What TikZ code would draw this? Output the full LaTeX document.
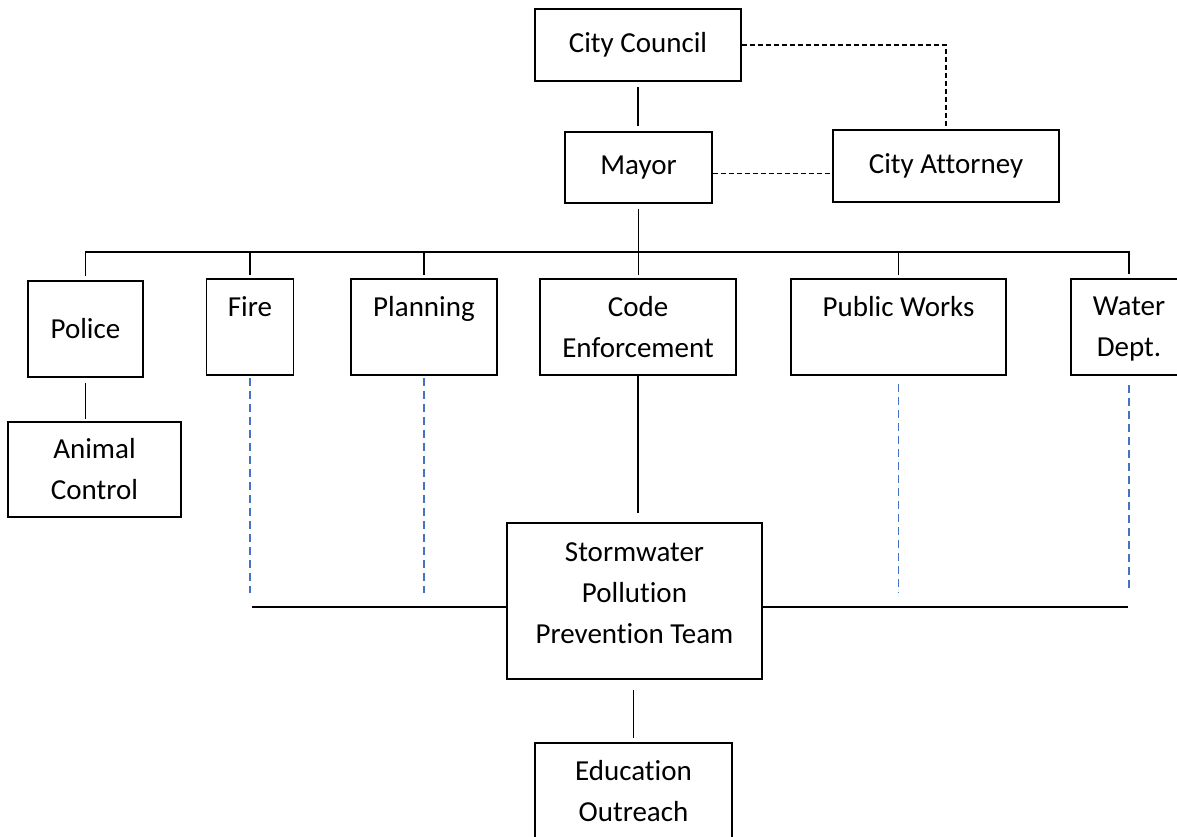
\documentclass[tikz,border=0pt]{standalone}
\usepackage{fontspec}
\setmainfont{Carlito}[Ligatures=NoCommon]
\usepackage{xcolor}
\definecolor{wordblue}{RGB}{68,114,196}

\begin{document}
\begin{tikzpicture}[x=1pt,y=-1pt,
        box/.style={draw,line width=1.8pt,align=center,inner sep=0pt,font=\fontsize{29}{41}\selectfont},
        link/.style={line width=1.7pt},
        aside/.style={line width=1.7pt,dash pattern=on 5pt off 3pt},
        tie/.style={wordblue,line width=1.6pt,dash pattern=on 8pt off 5pt}]
        \useasboundingbox (0,0) rectangle (1177,836);
        \node[box,minimum width=206pt,minimum height=72pt] (council) at (638,45) {City Council};
        \node[box,minimum width=147pt,minimum height=71pt] (mayor) at (638.5,167.5) {Mayor};
        \node[box,minimum width=226pt,minimum height=72pt] (attorney) at (946,166) {City Attorney};
        \node[box,minimum width=115pt,minimum height=96pt] (police) at (85.5,329) {Police};
        \node[box,minimum width=173pt,minimum height=95pt] (animal) at (94.5,469.5) {Animal\\Control};
        \node[box,minimum width=87pt,minimum height=96pt] (fire) at (250,327) {Fire\\~};
        \node[box,minimum width=146pt,minimum height=96pt] (planning) at (424,327) {Planning\\~};
        \node[box,minimum width=196pt,minimum height=96pt] (code) at (638,327) {Code\\Enforcement};
        \node[box,minimum width=215pt,minimum height=96pt] (works) at (898.5,327) {Public Works\\~};
        \node[box,minimum width=116pt,minimum height=96pt] (water) at (1129,327) {Water\\\raisebox{0pt}[\height][0pt]{Dept.}};
        \node[box,minimum width=255pt,minimum height=156pt] (team) at (634.5,601) {Stormwater\\Pollution\\Prevention Team\\[-26pt]~};
        \node[box,minimum width=197pt,minimum height=96pt] (outreach) at (633.5,791) {Education\\Outreach};

        \coordinate (bus) at (638,252);
        \coordinate (teamL) at (252,607);
        \coordinate (teamR) at (1128,607);

        \draw[link,shorten <=5pt,shorten >=5pt] (council.south) -- (council.south |- mayor.north);
        \draw[aside,shorten >=3pt] (council.east) -| (attorney.north);
        \draw[aside] ([yshift=-6pt]mayor.east) -- ([yshift=-6pt]mayor.east -| attorney.west);
        \draw[link,shorten <=5pt,shorten >=3pt] (mayor.south) -- (mayor.south |- code.north);
        \draw[link,shorten <=4pt,shorten >=4pt] (police.north) |- (bus) -| (water.north);
        \foreach \n in {fire,planning,works}
            \draw[link,shorten <=3pt] (\n.north) -- (\n.north |- bus);
        \draw[link,shorten >=9pt] (code.south) -- (code.south |- team.north);
        \draw[link,shorten <=10pt,shorten >=4pt] (team.south -| outreach.north) -- (outreach.north);
        \draw[link,shorten <=5pt,shorten >=2pt] (police.south) -- (police.south |- animal.north);
        \draw[link] (teamL) -- (teamL -| team.west);
        \draw[link] (team.east |- teamR) -- (teamR);
        \foreach \n/\s/\e in {fire/2pt/14pt,planning/2pt/14pt,works/8pt/14pt,water/9pt/19pt}
            \draw[tie,shorten <=\s,shorten >=\e] (\n.south) -- (\n.south |- teamL);
    \end{tikzpicture}
\end{document}
